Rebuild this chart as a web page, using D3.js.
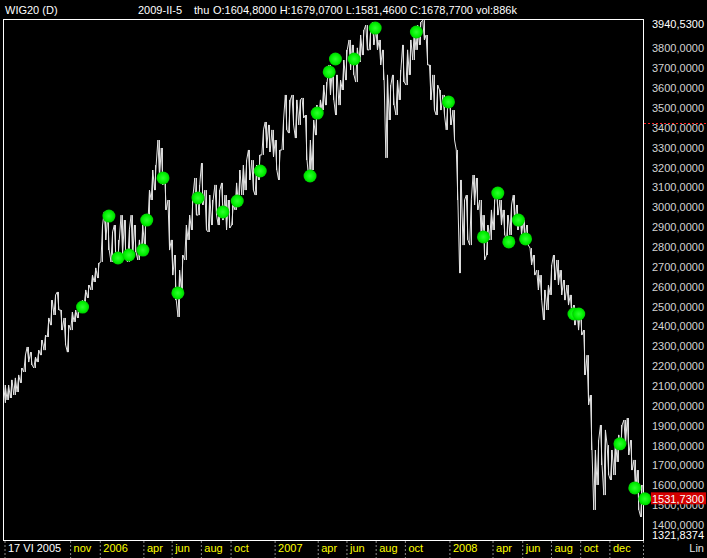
<!DOCTYPE html>
<html>
<head>
<meta charset="utf-8">
<script src="https://cdn.jsdelivr.net/npm/d3@7"></script>
<style>
  html, body { margin: 0; padding: 0; background: #000; }
  svg { display: block; font-family: "Liberation Sans", Arial, sans-serif; font-size: 11px; }
</style>
</head>
<body>
<svg width="707" height="558"></svg>
<script>
// weekly ranges of WIG20 (one entry per friday, 17 VI 2005 .. 6 II 2009)
var weekHigh = [2102,2102,2128,2138,2153,2188,2253,2294,2268,2243,
  2278,2329,2354,2440,2530,2556,2571,2480,2440,2404,
  2470,2480,2505,2530,2581,2606,2656,2692,2717,2908,
  2974,2958,2873,2908,2833,2958,2933,2883,2958,2908,
  2833,2908,2958,3084,3185,3210,3336,3296,3160,3034,
  2833,2757,2681,2757,2908,2958,3059,3145,3110,3220,
  3084,3059,3034,3110,3084,3120,3059,3034,3009,3120,
  3185,3210,3235,3286,3235,3210,3261,3387,3427,3412,
  3387,3336,3286,3437,3563,3538,3563,3538,3538,3548,
  3462,3336,3437,3512,3538,3613,3628,3714,3689,3664,
  3638,3739,3790,3840,3815,3800,3865,3890,3915,3890,
  3930,3900,3840,3790,3664,3613,3664,3638,3689,3815,
  3790,3840,3890,3915,3930,3940,3865,3714,3664,3613,
  3588,3563,3528,3538,3487,3286,3135,3034,3059,3034,
  3160,3145,3034,2958,2908,2984,3034,3084,3034,2984,
  2958,3009,3059,3009,2958,2933,2908,2792,2757,2681,
  2656,2581,2606,2707,2757,2732,2681,2631,2606,2556,
  2505,2480,2480,2379,2253,2052,1775,1825,1901,1876,
  1800,1775,1825,1851,1901,1926,1936,1825,1725,1674,
  1599];
var weekLow = [2012,2027,2037,2052,2067,2113,2168,2218,2203,2188,
  2218,2253,2278,2344,2404,2455,2480,2379,2304,2268,
  2379,2420,2440,2470,2505,2541,2581,2621,2641,2722,
  2833,2782,2722,2742,2722,2757,2732,2722,2742,2772,
  2732,2757,2807,2908,3034,3084,3145,3110,2984,2782,
  2656,2530,2445,2581,2732,2833,2883,2958,2958,3009,
  2883,2873,2908,2958,2908,2933,2883,2893,2908,2984,
  3009,3059,3084,3135,3084,3059,3135,3261,3296,3276,
  3251,3185,3135,3286,3387,3371,3412,3346,3412,3447,
  3235,3135,3185,3361,3447,3487,3512,3563,3538,3462,
  3512,3588,3638,3689,3664,3628,3729,3764,3790,3790,
  3815,3790,3714,3638,3246,3437,3512,3462,3538,3628,
  3613,3664,3739,3790,3815,3840,3714,3538,3487,3462,
  3487,3462,3387,3412,3336,3034,2666,2807,2833,2807,
  3009,2984,2833,2732,2757,2833,2883,2958,2908,2858,
  2833,2858,2908,2883,2858,2833,2807,2707,2656,2581,
  2530,2430,2480,2556,2631,2606,2556,2530,2505,2455,
  2404,2379,2354,2153,2002,1775,1473,1599,1699,1548,
  1649,1624,1649,1715,1775,1800,1750,1674,1564,1473,
  1438];

// green signal dots
var signalDates = ["2005-11-27","2006-01-21","2006-02-09","2006-03-04","2006-04-02","2006-04-10",
  "2006-05-14","2006-06-14","2006-07-26","2006-09-16","2006-10-16","2006-12-03",
  "2007-03-17","2007-04-01","2007-04-26","2007-05-09","2007-06-17","2007-07-31",
  "2007-10-25","2007-12-31","2008-03-13","2008-04-12","2008-05-05","2008-05-25",
  "2008-06-09","2008-09-18","2008-09-28","2008-12-23","2009-01-23","2009-02-13"];
var signalValues = [2495,2953,2742,2757,2782,2933,3145,2566,3044,2974,3029,3180,
  3155,3472,3679,3744,3744,3900,3880,3528,2848,3069,2823,2933,2838,2460,2460,1806,1584,1529];

// x axis labels
var tickDates = ["2005-06-17","2005-11-01","2006-01-02","2006-04-03","2006-06-01","2006-08-01","2006-10-02",
  "2007-01-02","2007-04-02","2007-06-01","2007-08-01","2007-10-01",
  "2008-01-02","2008-04-01","2008-06-02","2008-08-01","2008-10-01","2008-12-01"];
var tickLabels = ["17 VI 2005","nov","2006","apr","jun","aug","oct",
  "2007","apr","jun","aug","oct",
  "2008","apr","jun","aug","oct","dec"];

var yMin = 1321.8374, yMax = 3940.53, lastValue = 1531.73, markLevel = 3420;
var yTicks = [1400,1500,1600,1700,1800,1900,2000,2100,2200,2300,2400,2500,2600,
  2700,2800,2900,3000,3100,3200,3300,3400,3500,3600,3700,3800];

var parse = d3.timeParse("%Y-%m-%d");
var fmt = function(v) { return d3.format(".4f")(v).replace(".", ","); };

var svg = d3.select("svg");
var plotL = 3, plotR = 643, plotT = 19, plotB = 540;

var x = d3.scaleTime()
  .domain([parse("2005-06-17"), parse("2009-02-05")])
  .range([4.5, 641]);
var y = d3.scaleLinear()
  .domain([yMin, yMax])
  .range([plotB, plotT + 1]);

var weeks = d3.timeFriday.range(new Date(2005, 5, 17), new Date(2009, 1, 7));
var n = Math.min(weeks.length, weekHigh.length);

// zigzag through weekly high/low, looks like dense daily bars
var pts = [];
for (var i = 0; i < n; i++) {
  var mid = (weekHigh[i] + weekLow[i]) / 2;
  var nextMid = i < n - 1 ? (weekHigh[i+1] + weekLow[i+1]) / 2 : mid;
  var xx = x(weeks[i]);
  if (nextMid >= mid) {
    pts.push([xx - 0.8, y(weekLow[i])]);
    pts.push([xx + 0.8, y(weekHigh[i])]);
  } else {
    pts.push([xx - 0.8, y(weekHigh[i])]);
    pts.push([xx + 0.8, y(weekLow[i])]);
  }
}

var defs = svg.append("defs");
var grad = defs.append("radialGradient").attr("id", "dot");
grad.append("stop").attr("offset", "0%").attr("stop-color", "#30ff30");
grad.append("stop").attr("offset", "70%").attr("stop-color", "#00f000");
grad.append("stop").attr("offset", "100%").attr("stop-color", "#00c800");

// weekly bars
svg.append("g").selectAll("line")
  .data(weeks.slice(0, n))
  .enter().append("line")
    .attr("x1", function(d) { return Math.round(x(d)) + 0.5; })
    .attr("x2", function(d) { return Math.round(x(d)) + 0.5; })
    .attr("y1", function(d, i) { return y(weekHigh[i]); })
    .attr("y2", function(d, i) { return y(weekLow[i]); })
    .attr("stroke", "#d8d8d8")
    .attr("stroke-width", 1);

svg.append("path")
  .attr("d", d3.line()(pts))
  .attr("fill", "none")
  .attr("stroke", "#e2e2e2")
  .attr("stroke-width", 1);

// frame
svg.append("rect")
  .attr("x", plotL + 0.5).attr("y", plotT + 0.5)
  .attr("width", plotR - plotL).attr("height", plotB - plotT)
  .attr("fill", "none").attr("stroke", "#fff").attr("stroke-width", 1);

// signals
svg.append("g").selectAll("circle")
  .data(signalDates)
  .enter().append("circle")
    .attr("cx", function(d) { return x(parse(d)); })
    .attr("cy", function(d, i) { return y(signalValues[i]); })
    .attr("r", 6.5)
    .attr("fill", "url(#dot)");

// header
svg.append("text").attr("x", 5).attr("y", 14).attr("fill", "#fff").text("WIG20 (D)");
svg.append("text").attr("x", 138).attr("y", 14).attr("fill", "#fff").text("2009-II-5");
svg.append("text").attr("x", 194).attr("y", 14).attr("fill", "#fff").text("thu");
svg.append("text").attr("x", 213).attr("y", 14).attr("fill", "#fff")
  .text("O:1604,8000 H:1679,0700 L:1581,4600 C:1678,7700 vol:886k");

// x axis
var xAxis = svg.append("g")
  .attr("transform", "translate(0," + (plotB + 1) + ")")
  .call(d3.axisBottom(x)
    .tickValues(tickDates.map(parse))
    .tickFormat(function(d, i) { return tickLabels[i]; })
    .tickSize(17));
xAxis.select(".domain").remove();
xAxis.selectAll(".tick line")
  .attr("stroke", "#8a8a8a")
  .attr("stroke-dasharray", "2,2");
xAxis.selectAll(".tick text")
  .attr("x", 3).attr("y", 11).attr("dy", 0)
  .attr("text-anchor", "start")
  .attr("font-size", 11)
  .attr("font-family", "Liberation Sans, Arial, sans-serif")
  .attr("fill", function(d, i) { return i === 0 ? "#fff" : "#ffff00"; });
svg.append("line")
  .attr("x1", plotR + 0.5).attr("x2", plotR + 0.5)
  .attr("y1", plotB + 1).attr("y2", 558)
  .attr("stroke", "#8a8a8a").attr("stroke-dasharray", "2,2");

// y axis
var yAxis = svg.append("g")
  .attr("transform", "translate(" + plotR + ",0)")
  .call(d3.axisRight(y).tickValues(yTicks).tickFormat(fmt).tickSize(0));
yAxis.select(".domain").remove();
yAxis.selectAll(".tick text")
  .attr("x", 61).attr("dy", "0.36em")
  .attr("text-anchor", "end")
  .attr("font-size", 11)
  .attr("font-family", "Liberation Sans, Arial, sans-serif")
  .attr("fill", "#d4d4d4");

svg.append("text").attr("x", 704).attr("y", 28).attr("text-anchor", "end")
  .attr("fill", "#fff").text(fmt(yMax));
svg.append("text").attr("x", 704).attr("y", 539).attr("text-anchor", "end")
  .attr("fill", "#fff").text(fmt(yMin));
svg.append("text").attr("x", 704).attr("y", 552).attr("text-anchor", "end")
  .attr("fill", "#e0e0e0").text("Lin");

// level mark
svg.append("line")
  .attr("x1", plotR + 1).attr("x2", 707)
  .attr("y1", Math.round(y(markLevel)) + 0.5).attr("y2", Math.round(y(markLevel)) + 0.5)
  .attr("stroke", "#ff2020").attr("stroke-dasharray", "2,2");

// last value label
svg.append("rect")
  .attr("x", 651).attr("y", y(lastValue) - 6)
  .attr("width", 55).attr("height", 12)
  .attr("fill", "#d40000");
svg.append("text").attr("x", 704).attr("y", y(lastValue) + 4.5).attr("text-anchor", "end")
  .attr("fill", "#fff").text(fmt(lastValue));
</script>
</body>
</html>
